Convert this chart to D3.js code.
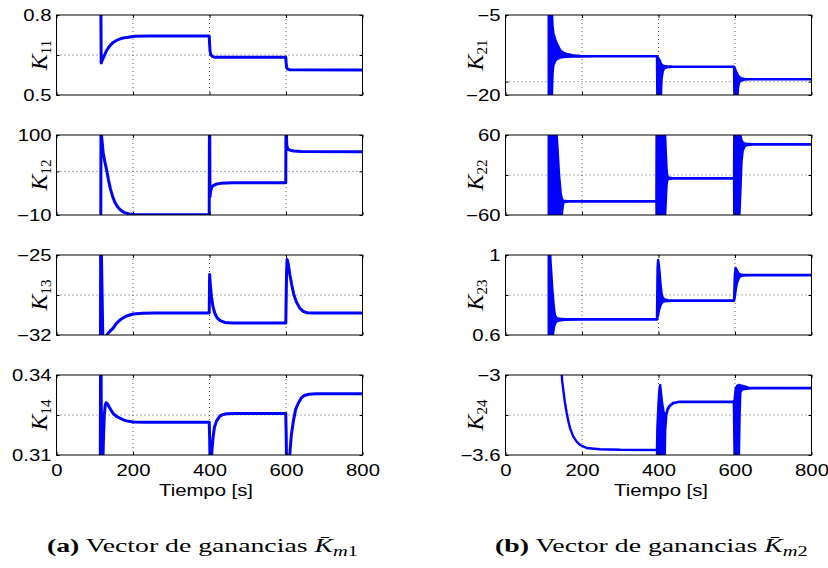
<!DOCTYPE html>
<html><head><meta charset="utf-8">
<script src="https://cdn.jsdelivr.net/npm/d3@7"></script>
<style>
body{margin:0;background:#fff}
svg{display:block}
</style></head><body>
<svg id="fig" width="828" height="568"></svg>
<script>
// time axis
var xTicks = [0, 200, 400, 600, 800];

// left column, gains of K_m1 : [t, value]
var k11 = [[116,0.86],[116.8,0.62],[120,0.632],[125,0.648],[130,0.664],[136,0.678],[143,0.69],[149,0.698],[160,0.707],[172,0.713],[183,0.716],[205,0.72],[240,0.721],
  [399.3,0.721],[400.3,0.69],[401.5,0.664],[403.5,0.651],[407,0.645],[413,0.642],[599.3,0.642],[600.3,0.622],[601.5,0.604],[604,0.597],[610,0.595],[800,0.594]];
var k12 = [[115.8,-20],[116.3,110],[117.5,100],[122,76],[126,64],[131,52],[136,38],[141,26],[147,15],[153,7],[160,1],[168,-3.5],[178,-6.8],[190,-8.5],[205,-9.4],[230,-9.7],
  [399.3,-9.8],[399.8,110],[400.6,110],[401.2,15],[403,23],[406,28],[410,30.5],[418,32.5],[430,33.5],[460,34.2],
  [599.4,34.5],[599.9,110],[600.8,110],[602,86],[604,81.5],[607,80],[612,79],[620,78],[640,77.2],[800,77]];
var k13 = [[115,-33],[115.5,-24],[117,-24],[119,-28],[121.5,-33],[128,-33],[131,-32.05],[136,-31.8],[142,-31.6],[148,-31.4],[156,-31.0],[166,-30.69],[175,-30.48],[183,-30.34],[200,-30.16],[225,-30.09],[260,-30.08],
  [399.3,-30.08],[400.3,-26.7],[402,-27.5],[405,-28.6],[409,-29.5],[414,-30.1],[420,-30.5],[428,-30.75],[440,-30.9],[460,-30.95],
  [599.5,-30.95],[601.5,-26.5],[603,-25.4],[606,-25.8],[610,-26.7],[615,-27.6],[620,-28.4],[627,-29.1],[636,-29.65],[645,-29.93],[655,-30.05],[670,-30.08],[800,-30.08]];
var k14 = [[114.5,0.305],[115.2,0.345],[116.5,0.345],[118,0.305],[121,0.305],[122.5,0.315],[125,0.325],[127.5,0.3288],[130,0.3296],[133,0.3292],[137,0.3282],[142,0.327],[148,0.3256],[156,0.3246],[166,0.3238],[175,0.3232],[183,0.3228],[200,0.3224],[230,0.3223],
  [399.3,0.3223],[400.5,0.316],[401.5,0.305],[404.5,0.305],[406.5,0.312],[409.7,0.317],[413,0.3205],[418.5,0.3228],[427,0.3246],[436,0.3252],[445,0.3255],[470,0.3256],
  [599.3,0.3256],[600.5,0.318],[601.5,0.305],[607,0.305],[610,0.3105],[614,0.3175],[619,0.3225],[625,0.327],[632,0.3294],[640,0.3314],[648,0.3323],[660,0.3328],[680,0.333],[800,0.333]];

// right column, gains of K_m2 : oscillation envelope [t, low, high]
var k21 = [[113,-21,-4],[121,-21,-4],[123,-16,-7],[125,-14.5,-8.4],[130,-13.6,-9.6],[134,-13.3,-10.3],[143,-13.0,-11.6],[152,-12.9,-12.1],[160,-12.85,-12.3],[175,-12.8,-12.55],[195,-12.78,-12.7],[230,-12.75,-12.72],
  [396,-12.75,-12.72],[397,-21,-12.8],[404,-21,-13.6],[406,-21,-14.1],[408,-17,-14.3],[411,-15.6,-14.45],[415,-15.0,-14.55],[422,-14.8,-14.62],[435,-14.72,-14.66],
  [597.5,-14.7,-14.68],[598.5,-21,-14.8],[604,-21,-15.8],[606,-21,-16.1],[608,-18.6,-16.35],[611,-17.6,-16.6],[616,-17.3,-16.85],[625,-17.12,-16.98],[640,-17.06,-17.02],[800,-17.05,-17.03]];
var k22 = [[113,-65,65],[133,-65,65],[136,-65,40],[140,-65,0],[144,-65,-25],[146,-65,-33],[148,-55,-36],[150,-45,-37.8],[152,-41,-38.5],[160,-40,-39],[180,-39.8,-39.2],
  [394.5,-39.8,-39.2],[395,-65,65],[417,-65,65],[419,-40,35],[421,-15,10],[423,-8,-1],[426,-6,-3.5],[435,-5.3,-4.7],[460,-5.2,-4.8],
  [597.5,-5.2,-4.8],[598,-65,65],[611,-65,65],[613,-40,62],[615,-10,57],[617,20,52],[620,36,49],[624,42,47.5],[630,44.5,46.8],[645,45.5,46.2],[800,45.6,46.1]];
var k23 = [[113,0.55,1.05],[116,0.55,1.05],[118,0.55,0.96],[120,0.55,0.905],[122,0.57,0.84],[124.5,0.61,0.78],[127,0.64,0.73],[129,0.655,0.70],[133,0.667,0.686],[140,0.672,0.681],[155,0.676,0.679],[200,0.677,0.679],
  [396,0.677,0.679],[397.5,0.69,0.93],[399,0.70,0.975],[401,0.72,0.95],[403,0.735,0.91],[405,0.748,0.86],[408,0.758,0.81],[411,0.765,0.787],[415,0.768,0.778],[425,0.770,0.774],[440,0.771,0.773],
  [597.5,0.771,0.773],[599.5,0.79,0.90],[601.5,0.82,0.935],[604,0.85,0.928],[607,0.87,0.915],[610,0.885,0.907],[614,0.893,0.903],[620,0.897,0.901],[640,0.898,0.9],[800,0.898,0.9]];
var k24 = [[146,-2.95,-2.95],[148,-3.04,-3.04],[151,-3.11,-3.11],[155,-3.2,-3.2],[160,-3.285,-3.285],[165,-3.355,-3.355],[169,-3.4,-3.4],[177,-3.46,-3.46],[186,-3.5,-3.5],[195,-3.525,-3.525],[212,-3.547,-3.547],[247,-3.557,-3.557],[300,-3.561,-3.561],
  [396,-3.562,-3.562],[397,-3.65,-3.4],[399.5,-3.65,-3.24],[402,-3.65,-3.12],[404.5,-3.65,-3.075],[407,-3.65,-3.15],[410,-3.65,-3.22],[413,-3.65,-3.27],[416,-3.65,-3.3],[417.5,-3.42,-3.32],[420.5,-3.3,-3.29],[424,-3.26,-3.25],[429,-3.235,-3.23],[438,-3.212,-3.21],[455,-3.202,-3.2],
  [597,-3.201,-3.199],[599,-3.65,-3.18],[602,-3.65,-3.1],[606,-3.65,-3.08],[610,-3.65,-3.075],[612,-3.3,-3.075],[614,-3.13,-3.08],[618,-3.11,-3.08],[625,-3.105,-3.085],[635,-3.102,-3.095],[650,-3.1,-3.098],[800,-3.1,-3.098]];

// y ticks (middle one has no label)
var ticks11 = [0.5, 0.65, 0.8], ticks12 = [-10, 50, 100], ticks13 = [-32, -28.5, -25], ticks14 = [0.31, 0.325, 0.34];
var ticks21 = [-20, -17.5, -5], ticks22 = [-60, 0, 60], ticks23 = [0.6, 0.8, 1], ticks24 = [-3.6, -3.3, -3];

var captions = [["(a)", "m1"], ["(b)", "m2"]];

var panels = [
  {col:0, row:0, sub:"11", data:k11, ticks:ticks11},
  {col:0, row:1, sub:"12", data:k12, ticks:ticks12},
  {col:0, row:2, sub:"13", data:k13, ticks:ticks13},
  {col:0, row:3, sub:"14", data:k14, ticks:ticks14},
  {col:1, row:0, sub:"21", band:k21, ticks:ticks21},
  {col:1, row:1, sub:"22", band:k22, ticks:ticks22},
  {col:1, row:2, sub:"23", band:k23, ticks:ticks23},
  {col:1, row:3, sub:"24", band:k24, ticks:ticks24}
];

var colX = [56.5, 505.5], colW = 306, rowY = [15, 135, 255, 375], rowH = 80;
var labX = [47, 483], xlabX = [206, 661], SX = 1.27;
var fmt = d3.format("~g");
var svg = d3.select("#fig");

panels.forEach(function(p, k) {
  var x0 = colX[p.col], y0 = rowY[p.row];
  var x = d3.scaleLinear().domain([0, 800]).range([x0, x0 + colW]);
  var y = d3.scaleLinear().domain([p.ticks[0], p.ticks[2]]).range([y0 + rowH, y0]);
  var g = svg.append("g");

  g.append("clipPath").attr("id", "c" + k).append("rect")
    .attr("x", x0).attr("y", y0).attr("width", colW).attr("height", rowH);

  // dotted grid
  g.selectAll(".gx").data(xTicks.slice(1, 4)).enter().append("line")
    .attr("x1", d => x(d)).attr("x2", d => x(d)).attr("y1", y0).attr("y2", y0 + rowH)
    .attr("stroke", "#333").attr("stroke-width", 0.8).attr("stroke-dasharray", "1,3");
  g.append("line").attr("x1", x0).attr("x2", x0 + colW).attr("y1", y(p.ticks[1])).attr("y2", y(p.ticks[1]))
    .attr("stroke", "#333").attr("stroke-width", 0.8).attr("stroke-dasharray", "1,3");

  var plot = g.append("g").attr("clip-path", "url(#c" + k + ")");
  if (p.data) {
    plot.append("path").datum(p.data)
      .attr("d", d3.line().x(d => x(d[0])).y(d => y(d[1])))
      .attr("fill", "none").attr("stroke", "#0000ff").attr("stroke-width", 3).attr("stroke-linejoin", "round");
  } else {
    plot.append("path").datum(p.band)
      .attr("d", d3.area().x(d => x(d[0])).y0(d => y(d[1])).y1(d => y(d[2])))
      .attr("fill", "#0000ff").attr("stroke", "#0000ff").attr("stroke-width", 2.4).attr("stroke-linejoin", "round");
  }

  // axes, MATLAB style ticks inside
  var bottom = g.append("g").attr("transform", "translate(0," + (y0 + rowH) + ")")
    .call(d3.axisBottom(x).tickValues(xTicks).tickSizeInner(-3).tickSizeOuter(0)
      .tickFormat(p.row === 3 ? fmt : ""));
  g.append("g").attr("transform", "translate(0," + y0 + ")")
    .call(d3.axisTop(x).tickValues(xTicks).tickSizeInner(-3).tickSizeOuter(0).tickFormat(""));
  var left = g.append("g").attr("transform", "translate(" + x0 + ",0)")
    .call(d3.axisLeft(y).tickValues(p.ticks).tickSizeInner(-3).tickSizeOuter(0)
      .tickFormat((d, i) => i === 1 ? "" : fmt(d)));
  g.append("g").attr("transform", "translate(" + (x0 + colW) + ",0)")
    .call(d3.axisRight(y).tickValues(p.ticks).tickSizeInner(-3).tickSizeOuter(0).tickFormat(""));
  g.selectAll(".domain").remove();
  g.selectAll(".tick line").attr("stroke", "#000");
  g.selectAll(".tick text").attr("font-family", "'Liberation Sans', Arial, sans-serif").attr("font-size", 16).attr("fill", "#000");
  left.selectAll("text").attr("x", -5 / SX).attr("transform", "scale(" + SX + ",1)");
  bottom.selectAll("text").attr("y", 10).attr("transform", "scale(" + SX + ",1)");

  g.append("rect").attr("x", x0).attr("y", y0).attr("width", colW).attr("height", rowH)
    .attr("fill", "none").attr("stroke", "#000").attr("stroke-width", 1);

  // y label K_ij
  var yl = g.append("text")
    .attr("transform", "translate(" + labX[p.col] + "," + (y0 + rowH / 2) + ") rotate(-90)")
    .attr("text-anchor", "middle").attr("font-family", "'Liberation Serif', 'Times New Roman', serif").attr("fill", "#000");
  yl.append("tspan").attr("font-style", "italic").attr("font-size", 24).text("K");
  yl.append("tspan").attr("font-size", 15).attr("dy", 4).text(p.sub);

  if (p.row === 3) {
    g.append("text").attr("transform", "translate(" + xlabX[p.col] + ",496) scale(" + SX + ",1)")
      .attr("text-anchor", "middle").attr("font-family", "'Liberation Sans', Arial, sans-serif")
      .attr("font-size", 16).text("Tiempo [s]");
  }
});

// sub-figure captions
var capX = [47, 495], capW = [311, 313];
captions.forEach(function(c, i) {
  var t = svg.append("text").attr("font-family", "'Liberation Serif', 'Times New Roman', serif")
    .attr("font-size", 19).attr("fill", "#000");
  t.append("tspan").attr("font-weight", "bold").text(c[0]);
  t.append("tspan").text(" Vector de ganancias ");
  t.append("tspan").attr("font-style", "italic").text("K\u0304");
  t.append("tspan").attr("font-style", "italic").attr("font-size", 14).attr("dy", 4).text(c[1].charAt(0));
  t.append("tspan").attr("font-size", 14).text(c[1].charAt(1));
  var w = t.node().getBBox().width;
  t.attr("transform", "translate(" + capX[i] + ",552) scale(" + (capW[i] / w) + ",1)");
});
</script>
</body></html>
